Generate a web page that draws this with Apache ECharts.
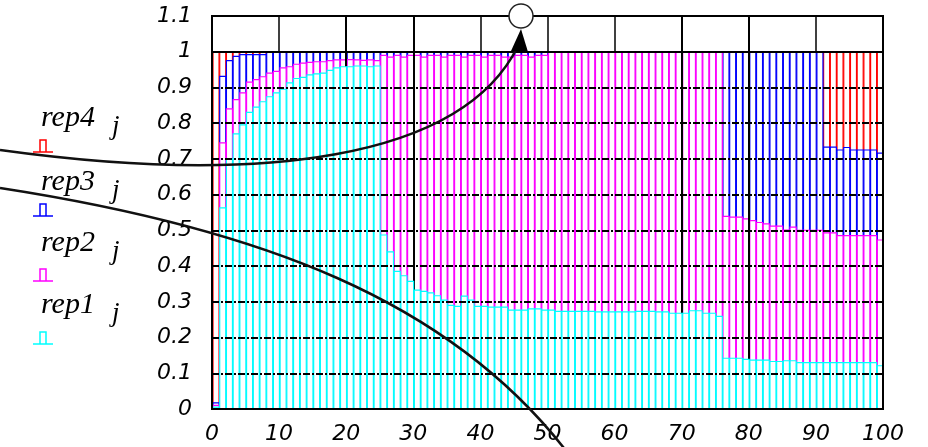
<!DOCTYPE html>
<html><head><meta charset="utf-8">
<script src="https://cdn.jsdelivr.net/npm/echarts@6/dist/echarts.min.js"></script>
<style>html,body{margin:0;padding:0;background:#fff}#c{width:928px;height:447px}</style>
</head><body><div id="c"></div>
<script>
const xTicks = ['0','10','20','30','40','50','60','70','80','90','100'];
const yTicks = ['0','0.1','0.2','0.3','0.4','0.5','0.6','0.7','0.8','0.9','1','1.1'];
const seriesNames = ['rep1','rep2','rep3','rep4'];
const seriesColors = ['#00ffff','#ff00ff','#0000ff','#ff0000'];
const vLines = [20,30,70,80];

const rep1 = [
0.005,0.563,0.70,0.77,0.795,0.83,0.845,0.86,0.874,0.885,
0.895,0.913,0.925,0.928,0.935,0.938,0.94,0.948,0.955,0.958,
0.958,0.96,0.96,0.958,0.96,0.487,0.44,0.385,0.373,0.357,
0.333,0.329,0.325,0.317,0.305,0.29,0.287,0.316,0.305,0.287,
0.287,0.285,0.285,0.285,0.277,0.277,0.277,0.28,0.28,0.277,
0.277,0.273,0.273,0.273,0.273,0.273,0.273,0.272,0.272,0.272,
0.272,0.272,0.272,0.273,0.273,0.273,0.272,0.272,0.268,0.268,
0.268,0.275,0.275,0.268,0.268,0.259,0.142,0.142,0.142,0.139,
0.137,0.137,0.137,0.133,0.133,0.135,0.135,0.13,0.13,0.13,
0.13,0.13,0.13,0.13,0.13,0.13,0.13,0.13,0.13,0.121];
const rep2 = [
0.01,0.745,0.84,0.866,0.885,0.915,0.922,0.93,0.94,0.945,
0.955,0.958,0.965,0.968,0.97,0.972,0.972,0.975,0.977,0.977,
0.978,0.977,0.976,0.977,0.975,0.99,0.985,0.99,0.985,0.99,
0.99,0.985,0.99,0.99,0.985,0.99,0.99,0.985,0.99,0.99,
0.985,0.99,0.99,0.985,0.985,0.99,0.99,0.985,0.99,0.99,
1,1,1,1,1,1,1,1,1,1,
1,1,1,1,1,1,1,1,1,1,
1,1,1,1,1,1,0.539,0.537,0.537,0.532,
0.527,0.522,0.518,0.512,0.512,0.501,0.509,0.5,0.5,0.5,
0.5,0.493,0.493,0.485,0.485,0.485,0.485,0.485,0.485,0.473];
const rep3 = [
0.017,0.931,0.975,0.987,0.992,0.992,0.992,0.992,1,1,
1,1,1,1,1,1,1,1,1,1,
1,1,1,1,1,1,1,1,1,1,
1,1,1,1,1,1,1,1,1,1,
1,1,1,1,1,1,1,1,1,1,
1,1,1,1,1,1,1,1,1,1,
1,1,1,1,1,1,1,1,1,1,
1,1,1,1,1,1,1,1,1,1,
1,1,1,1,1,1,1,1,1,1,
1,0.733,0.733,0.725,0.732,0.725,0.725,0.725,0.725,0.716];
const rep4 = [
1,1,1,1,1,1,1,1,1,1,
1,1,1,1,1,1,1,1,1,1,
1,1,1,1,1,1,1,1,1,1,
1,1,1,1,1,1,1,1,1,1,
1,1,1,1,1,1,1,1,1,1,
1,1,1,1,1,1,1,1,1,1,
1,1,1,1,1,1,1,1,1,1,
1,1,1,1,1,1,1,1,1,1,
1,1,1,1,1,1,1,1,1,1,
1,1,1,1,1,1,1,1,1,1];
const allSeries = [rep1, rep2, rep3, rep4];

const chart = echarts.init(document.getElementById('c'), null, {renderer:'canvas'});
const labelFont = {fontFamily:'DejaVu Sans', fontStyle:'italic', fontWeight:200, fontSize:22, color:'#000'};

function barRenderer(color){
  return function(params, api){
    const j = api.value(0), v = api.value(1);
    const a = api.coord([j + 0.15, 0]);
    const b = api.coord([j + 1.05, v]);
    return {
      type:'rect',
      shape:{x:a[0], y:b[1], width:b[0]-a[0], height:a[1]-b[1]},
      style:{fill:'#ffffff', stroke:color, lineWidth:1.2}
    };
  };
}

const series = [];
for (let k = 3; k >= 0; k--) {
  series.push({
    type:'custom', name:seriesNames[k], z:2+(3-k),
    clip:true, silent:true,
    renderItem: barRenderer(seriesColors[k]),
    encode:{x:0, y:1},
    data: allSeries[k].map((v,j)=>[j,v])
  });
}
series.push({
  type:'line', data:[], z:20, silent:true,
  markLine:{
    silent:true, symbol:'none', label:{show:false},
    lineStyle:{color:'#000', type:'solid', width:2},
    data: vLines.map(x=>({xAxis:x})).concat([{yAxis:1}])
  }
});

// legend graphics
const legendTop = [127, 191, 252, 314];
const symTop = [139, 203, 268, 331];
const graphics = [];
for (let i = 0; i < 4; i++) {
  const k = 3 - i;
  graphics.push({type:'text', z:100, x:41, y:legendTop[i]-24,
    style:{text:seriesNames[k], font:'italic 30px "Liberation Serif"', fill:'#000'}});
  graphics.push({type:'text', z:100, x:112, y:legendTop[i]-14,
    style:{text:'j', font:'italic 27px "Liberation Serif"', fill:'#000'}});
  const s = symTop[i], c = seriesColors[k];
  graphics.push({type:'polyline', z:100, shape:{points:[[33,s+13],[53,s+13]]}, style:{stroke:c, lineWidth:1.5, fill:null}});
  graphics.push({type:'polyline', z:100, shape:{points:[[40,s+13],[40,s+1],[46,s+1],[46,s+13]]}, style:{stroke:c, lineWidth:1.5, fill:null}});
}
// annotation curves
graphics.push({type:'bezierCurve', z:110, shape:{x1:0, y1:150, cpx1:260, cpy1:186, cpx2:462, cpy2:160, x2:518, y2:46}, style:{stroke:'#111', lineWidth:2.5, fill:null}});
graphics.push({type:'polygon', z:110, shape:{points:[[521,29],[511,51],[528,52]]}, style:{fill:'#000'}});
graphics.push({type:'bezierCurve', z:110, shape:{x1:0, y1:188, cpx1:260, cpy1:228, cpx2:450, cpy2:300, x2:567, y2:452}, style:{stroke:'#111', lineWidth:2.5, fill:null}});
graphics.push({type:'circle', z:120, shape:{cx:521, cy:16, r:12}, style:{fill:'#fff', stroke:'#222', lineWidth:1.5}});

chart.setOption({
  animation:false,
  backgroundColor:'#fff',
  grid:{left:212, right:45, top:16, bottom:38, show:true, borderColor:'#000', borderWidth:2, backgroundColor:'transparent', z:30},
  xAxis:{type:'value', min:0, max:100, interval:10, z:0,
    axisLine:{show:true, lineStyle:{color:'#000', width:2}},
    axisTick:{show:false},
    axisLabel:Object.assign({margin:14, formatter:(v)=>xTicks[Math.round(v/10)]}, labelFont),
    splitLine:{show:true, lineStyle:{color:'#000', width:1.5, type:'solid'}}
  },
  yAxis:{type:'value', min:0, max:1.1, interval:0.1, z:10,
    axisLine:{show:true, lineStyle:{color:'#000', width:2}},
    axisTick:{show:false},
    axisLabel:Object.assign({margin:20, formatter:(v)=>yTicks[Math.round(v*10)]}, labelFont),
    splitLine:{show:true, lineStyle:{color:'#000', width:1.8, type:[7,2,2,2]}}
  },
  graphic:graphics,
  series:series
});
</script>
</body></html>
